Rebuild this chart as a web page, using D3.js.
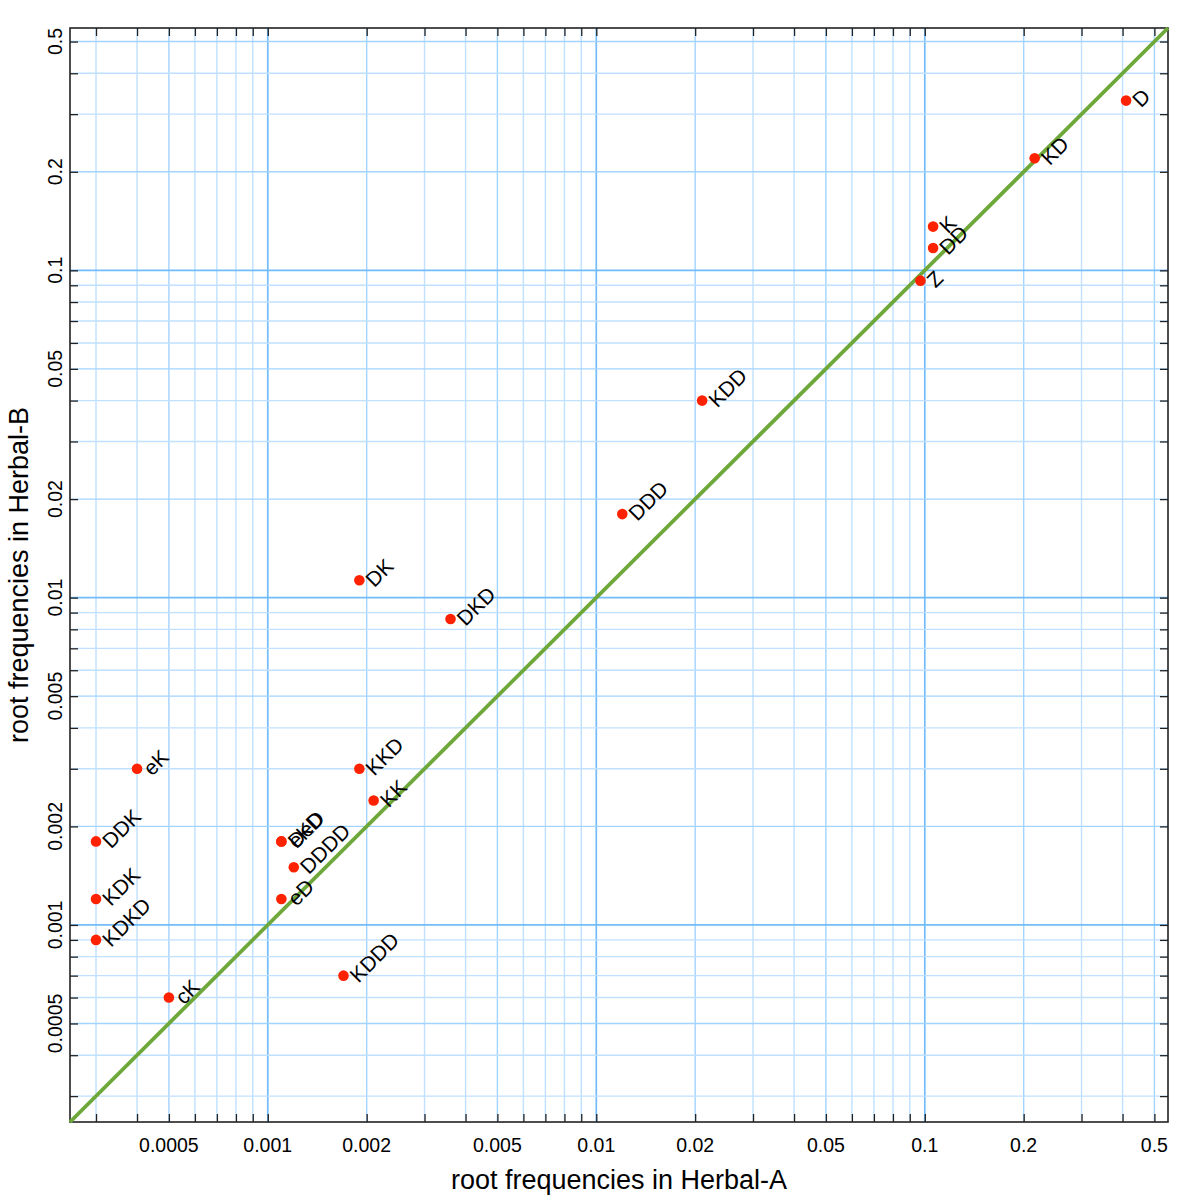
<!DOCTYPE html>
<html>
<head>
<meta charset="utf-8">
<script src="https://cdn.jsdelivr.net/npm/d3@7"></script>
<style>
  body { margin: 0; background: #fff; }
  text { font-family: "Liberation Sans", Arial, sans-serif; }
</style>
</head>
<body>
<div id="chart"></div>
<script>
// roots and their frequencies in the two herbal sections
const roots   = ["D", "KD", "K", "DD", "Z", "KDD", "DDD", "DK", "DKD", "eK", "KKD", "KK", "DDK", "DeD", "eKD", "DDDD", "eD", "KDK", "KDKD", "cK", "KDDD"];
const herbalA = [0.41, 0.216, 0.106, 0.106, 0.097, 0.021, 0.012, 0.0019, 0.0036, 0.0004, 0.0019, 0.0021, 0.0003, 0.0011, 0.0011, 0.0012, 0.0011, 0.0003, 0.0003, 0.0005, 0.0017];
const herbalB = [0.33, 0.22, 0.136, 0.117, 0.093, 0.04, 0.018, 0.0113, 0.0086, 0.003, 0.003, 0.0024, 0.0018, 0.0018, 0.0018, 0.0015, 0.0012, 0.0012, 0.0009, 0.0006, 0.0007];

const axisDomain = [0.00025, 0.55];
const tickLabels = [0.0005, 0.001, 0.002, 0.005, 0.01, 0.02, 0.05, 0.1, 0.2, 0.5];
const gridValues = [0.0003, 0.0004, 0.0005, 0.0006, 0.0007, 0.0008, 0.0009,
                    0.001, 0.002, 0.003, 0.004, 0.005, 0.006, 0.007, 0.008, 0.009,
                    0.01, 0.02, 0.03, 0.04, 0.05, 0.06, 0.07, 0.08, 0.09,
                    0.1, 0.2, 0.3, 0.4, 0.5];
const decades = [0.001, 0.01, 0.1];

const width = 1200, height = 1200;
const margin = {top: 28, right: 32, bottom: 78, left: 70};

const svg = d3.select("#chart").append("svg")
  .attr("width", width)
  .attr("height", height);

const x = d3.scaleLog().domain(axisDomain).range([margin.left, width - margin.right]);
const y = d3.scaleLog().domain(axisDomain).range([height - margin.bottom, margin.top]);

const x0 = margin.left, x1 = width - margin.right;
const y0 = height - margin.bottom, y1 = margin.top;

// grid colour depends on the kind of value
function gridColor(v) {
  if (decades.some(d => Math.abs(d - v) < 1e-12)) return "#72bcfb";
  if (tickLabels.some(d => Math.abs(d - v) / d < 1e-9)) return "#a3d3ff";
  return "#bfe0ff";
}

const grid = svg.append("g");
grid.selectAll("line.vx")
  .data(gridValues)
  .enter().append("line")
  .attr("x1", d => x(d)).attr("x2", d => x(d))
  .attr("y1", y0).attr("y2", y1)
  .attr("stroke", gridColor)
  .attr("stroke-width", d => decades.includes(d) ? 1.7 : 1.4);
grid.selectAll("line.hy")
  .data(gridValues)
  .enter().append("line")
  .attr("y1", d => y(d)).attr("y2", d => y(d))
  .attr("x1", x0).attr("x2", x1)
  .attr("stroke", gridColor)
  .attr("stroke-width", d => decades.includes(d) ? 1.7 : 1.4);

// inward ticks on all four sides
const fmt = d => d3.format("~g")(d);
svg.append("g")
  .attr("transform", `translate(0,${y0})`)
  .call(d3.axisBottom(x).tickValues(gridValues).tickSize(-8).tickFormat(""))
  .call(g => g.select(".domain").remove());
svg.append("g")
  .attr("transform", `translate(0,${y1})`)
  .call(d3.axisTop(x).tickValues(gridValues).tickSize(-8).tickFormat(""))
  .call(g => g.select(".domain").remove());
svg.append("g")
  .attr("transform", `translate(${x0},0)`)
  .call(d3.axisLeft(y).tickValues(gridValues).tickSize(-8).tickFormat(""))
  .call(g => g.select(".domain").remove());
svg.append("g")
  .attr("transform", `translate(${x1},0)`)
  .call(d3.axisRight(y).tickValues(gridValues).tickSize(-8).tickFormat(""))
  .call(g => g.select(".domain").remove());
svg.selectAll(".tick line").attr("stroke", "#222").attr("stroke-width", 1.3);

// frame
svg.append("rect")
  .attr("x", x0).attr("y", y1)
  .attr("width", x1 - x0).attr("height", y0 - y1)
  .attr("fill", "none").attr("stroke", "#222").attr("stroke-width", 1.6);

// tick labels
svg.append("g").selectAll("text")
  .data(tickLabels)
  .enter().append("text")
  .attr("x", d => x(d))
  .attr("y", 1152)
  .attr("text-anchor", "middle")
  .attr("font-size", 19.5)
  .text(fmt);

svg.append("g").selectAll("text")
  .data(tickLabels)
  .enter().append("text")
  .attr("transform", d => `translate(62,${y(d)}) rotate(-90)`)
  .attr("text-anchor", "middle")
  .attr("font-size", 19.5)
  .text(fmt);

// axis titles
svg.append("text")
  .attr("x", (x0 + x1) / 2).attr("y", 1189)
  .attr("text-anchor", "middle")
  .attr("font-size", 27)
  .text("root frequencies in Herbal-A");
svg.append("text")
  .attr("transform", `translate(28,${(y0 + y1) / 2}) rotate(-90)`)
  .attr("text-anchor", "middle")
  .attr("font-size", 27)
  .text("root frequencies in Herbal-B");

// y = x reference line
svg.append("line")
  .attr("x1", x(axisDomain[0])).attr("y1", y(axisDomain[0]))
  .attr("x2", x(axisDomain[1])).attr("y2", y(axisDomain[1]))
  .attr("stroke", "#6ea83a")
  .attr("stroke-width", 3.8);

// points and labels
const pts = svg.append("g");
pts.selectAll("circle")
  .data(roots)
  .enter().append("circle")
  .attr("cx", (d, i) => x(herbalA[i]))
  .attr("cy", (d, i) => y(herbalB[i]))
  .attr("r", 5.3)
  .attr("fill", "#ff2200");
pts.selectAll("text")
  .data(roots)
  .enter().append("text")
  .attr("transform", (d, i) => `translate(${x(herbalA[i]) + 15},${y(herbalB[i]) + 8}) rotate(-45)`)
  .attr("font-size", 21)
  .attr("fill", "#000")
  .text(d => d);
</script>
</body>
</html>
